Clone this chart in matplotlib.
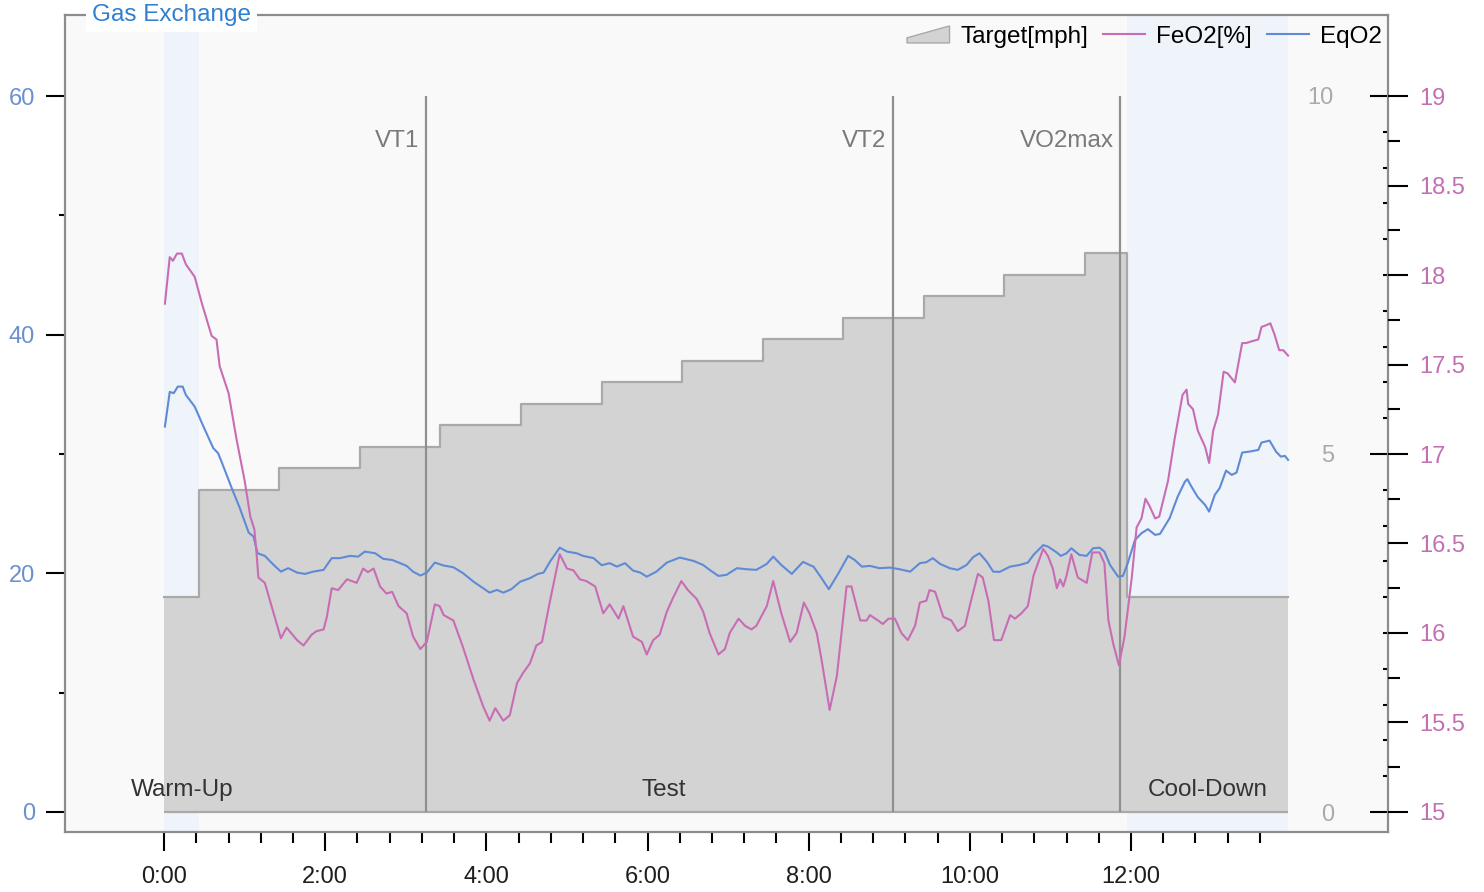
import numpy as np
import matplotlib
matplotlib.use("Agg")
import matplotlib.pyplot as plt
from matplotlib.patches import Patch, Polygon
from matplotlib.lines import Line2D
from matplotlib.legend_handler import HandlerPatch
from matplotlib.ticker import FixedLocator, FuncFormatter

plt.rcParams['font.family'] = ['Liberation Sans', 'DejaVu Sans']
FS = 17      # tick labels
FS_TXT = 17.5  # annotations, legend, title

# time in minutes
eq_t = [0.01, 0.07, 0.12, 0.17, 0.23, 0.27, 0.38, 0.47, 0.61, 0.67,
        0.72, 0.84, 0.94, 1.05, 1.11, 1.16, 1.25, 1.36, 1.45, 1.54,
        1.65, 1.75, 1.85, 1.98, 2.08, 2.18, 2.31, 2.41, 2.49, 2.62,
        2.72, 2.83, 2.93, 3.01, 3.09, 3.18, 3.26, 3.36, 3.47, 3.59,
        3.71, 3.84, 3.96, 4.04, 4.13, 4.21, 4.31, 4.42, 4.54, 4.64,
        4.71, 4.79, 4.91, 5.00, 5.12, 5.20, 5.33, 5.43, 5.53, 5.62,
        5.72, 5.82, 5.91, 5.99, 6.11, 6.24, 6.40, 6.57, 6.69, 6.77,
        6.88, 6.98, 7.11, 7.23, 7.35, 7.48, 7.56, 7.66, 7.79, 7.93,
        8.01, 8.06, 8.16, 8.25, 8.37, 8.49, 8.57, 8.66, 8.76, 8.88,
        9.01, 9.13, 9.26, 9.38, 9.46, 9.54, 9.63, 9.75, 9.85, 9.96,
        10.04, 10.12, 10.21, 10.29, 10.37, 10.50, 10.62, 10.72, 10.79, 10.91,
        10.97, 11.08, 11.13, 11.20, 11.26, 11.36, 11.45, 11.53, 11.61, 11.67,
        11.74, 11.84, 11.90, 11.96, 12.05, 12.13, 12.21, 12.30, 12.36, 12.48,
        12.58, 12.67, 12.70, 12.75, 12.83, 12.92, 12.97, 13.04, 13.10, 13.18,
        13.25, 13.31, 13.38, 13.47, 13.58, 13.62, 13.72, 13.80, 13.86, 13.91,
        13.95]
eq_o2 = [32.3, 35.2, 35.1, 35.65, 35.65, 34.95, 33.97, 32.58, 30.49, 30.07,
         29.23, 27.13, 25.46, 23.41, 23.08, 21.68, 21.46, 20.70, 20.14, 20.43,
         20.06, 19.95, 20.14, 20.29, 21.27, 21.27, 21.46, 21.40, 21.82, 21.68,
         21.21, 21.12, 20.85, 20.62, 20.14, 19.81, 20.06, 20.90, 20.65, 20.51,
         20.01, 19.30, 18.75, 18.38, 18.61, 18.38, 18.67, 19.30, 19.59, 19.95,
         20.06, 20.98, 22.15, 21.82, 21.68, 21.46, 21.27, 20.68, 20.85, 20.56,
         20.85, 20.23, 20.06, 19.72, 20.14, 20.90, 21.32, 21.04, 20.70, 20.29,
         19.78, 19.87, 20.43, 20.34, 20.29, 20.79, 21.40, 20.70, 19.95, 20.96,
         20.70, 20.56, 19.59, 18.67, 20.01, 21.46, 21.12, 20.56, 20.62, 20.43,
         20.48, 20.34, 20.14, 20.85, 20.93, 21.27, 20.79, 20.43, 20.29, 20.70,
         21.35, 21.68, 20.98, 20.14, 20.12, 20.56, 20.70, 20.90, 21.54, 22.36,
         22.24, 21.74, 21.46, 21.68, 22.10, 21.54, 21.46, 22.10, 22.15, 21.82,
         20.70, 19.72, 19.78, 20.85, 22.80, 23.36, 23.70, 23.22, 23.30, 24.62,
         26.43, 27.69, 27.89, 27.27, 26.38, 25.73, 25.17, 26.57, 27.13, 28.61,
         28.25, 28.44, 30.12, 30.20, 30.34, 30.96, 31.12, 30.20, 29.78, 29.84,
         29.51]

fe_t = [0.01, 0.07, 0.11, 0.16, 0.22, 0.27, 0.38, 0.47, 0.59, 0.65,
        0.69, 0.80, 0.90, 1.00, 1.07, 1.12, 1.15, 1.17, 1.25, 1.36,
        1.45, 1.52, 1.65, 1.73, 1.83, 1.89, 1.98, 2.02, 2.08, 2.16,
        2.27, 2.39, 2.47, 2.53, 2.60, 2.68, 2.76, 2.83, 2.91, 3.01,
        3.09, 3.18, 3.26, 3.36, 3.42, 3.47, 3.59, 3.71, 3.84, 3.96,
        4.04, 4.11, 4.21, 4.29, 4.38, 4.46, 4.54, 4.62, 4.69, 4.79,
        4.91, 5.00, 5.08, 5.16, 5.24, 5.35, 5.45, 5.53, 5.64, 5.70,
        5.82, 5.93, 5.99, 6.07, 6.15, 6.24, 6.32, 6.42, 6.50, 6.61,
        6.69, 6.77, 6.88, 6.96, 7.02, 7.13, 7.21, 7.29, 7.35, 7.48,
        7.56, 7.66, 7.77, 7.85, 7.94, 8.01, 8.10, 8.16, 8.26, 8.35,
        8.47, 8.53, 8.64, 8.72, 8.76, 8.86, 8.92, 8.99, 9.07, 9.15,
        9.23, 9.32, 9.38, 9.46, 9.50, 9.57, 9.67, 9.77, 9.81, 9.85,
        9.94, 10.02, 10.10, 10.16, 10.23, 10.30, 10.39, 10.50, 10.56, 10.64,
        10.72, 10.79, 10.91, 10.97, 11.03, 11.08, 11.12, 11.16, 11.20, 11.26,
        11.34, 11.45, 11.52, 11.61, 11.67, 11.72, 11.78, 11.85, 11.92, 12.01,
        12.07, 12.13, 12.18, 12.23, 12.30, 12.35, 12.46, 12.54, 12.64, 12.69,
        12.71, 12.77, 12.83, 12.92, 12.97, 13.02, 13.08, 13.15, 13.20, 13.29,
        13.38, 13.43, 13.50, 13.58, 13.62, 13.68, 13.73, 13.78, 13.84, 13.89,
        13.95]
fe_o2 = [17.84, 18.10, 18.08, 18.12, 18.12, 18.06, 17.99, 17.84, 17.66, 17.64,
         17.49, 17.34, 17.08, 16.85, 16.65, 16.58, 16.43, 16.31, 16.28, 16.11,
         15.97, 16.03, 15.96, 15.93, 15.99, 16.01, 16.02, 16.09, 16.25, 16.24,
         16.30, 16.28, 16.36, 16.34, 16.36, 16.26, 16.22, 16.23, 16.15, 16.11,
         15.98, 15.91, 15.95, 16.16, 16.15, 16.10, 16.07, 15.92, 15.74, 15.59,
         15.51, 15.58, 15.51, 15.54, 15.72, 15.78, 15.83, 15.93, 15.95, 16.18,
         16.44, 16.36, 16.35, 16.30, 16.29, 16.26, 16.11, 16.16, 16.08, 16.15,
         15.98, 15.95, 15.88, 15.96, 15.99, 16.12, 16.20, 16.29, 16.24, 16.19,
         16.12, 16.00, 15.88, 15.91, 16.00, 16.08, 16.04, 16.02, 16.04, 16.15,
         16.29, 16.11, 15.95, 16.00, 16.17, 16.11, 16.00, 15.85, 15.57, 15.76,
         16.26, 16.26, 16.07, 16.07, 16.10, 16.07, 16.05, 16.08, 16.08, 16.00,
         15.96, 16.04, 16.17, 16.18, 16.24, 16.23, 16.09, 16.07, 16.04, 16.01,
         16.04, 16.19, 16.33, 16.31, 16.18, 15.96, 15.96, 16.10, 16.08, 16.11,
         16.15, 16.32, 16.47, 16.43, 16.36, 16.25, 16.30, 16.26, 16.32, 16.44,
         16.31, 16.28, 16.45, 16.45, 16.39, 16.07, 15.94, 15.82, 15.98, 16.31,
         16.59, 16.64, 16.75, 16.71, 16.64, 16.65, 16.85, 17.08, 17.33, 17.36,
         17.28, 17.25, 17.13, 17.04, 16.95, 17.13, 17.22, 17.46, 17.45, 17.40,
         17.62, 17.62, 17.63, 17.64, 17.71, 17.72, 17.73, 17.67, 17.58, 17.58,
         17.55]

# treadmill target speed (mph), step changes
spd_t = [0, 0.43, 1.43, 2.43, 3.43, 4.43, 5.43, 6.43, 7.43, 8.43, 9.43, 10.43, 11.43, 11.95, 13.95]
spd_v = [3.0, 4.5, 4.8, 5.1, 5.4, 5.7, 6.0, 6.3, 6.6, 6.9, 7.2, 7.5, 7.8, 3.0, 3.0]

events = ['VT1', 'VT2', 'VO2max']
event_t = [3.25, 9.05, 11.87]

phases = ['Warm-Up', 'Test', 'Cool-Down']
phase_x = [0.22, 6.2, 12.95]
warm_span = (0, 0.43)
cool_span = (11.95, 13.95)

PINK = '#c86db5'
BLUE = '#5f8ad6'
FRAME = '#8c8c8c'

rect = [65 / 1484, 60 / 892, 1323 / 1484, 817 / 892]
fig = plt.figure(figsize=(14.84, 8.92), dpi=100)

# back axes: target speed + shading
ax_spd = fig.add_axes(rect)
ax_spd.set_facecolor('#f9f9f9')
ax_spd.axvspan(*warm_span, color='#eff3fa', lw=0, zorder=0.5)
ax_spd.axvspan(*cool_span, color='#eff3fa', lw=0, zorder=0.5)
ax_spd.fill_between(spd_t, 0, spd_v, step='post', color='#d3d3d3', lw=0, zorder=1)
ax_spd.step(spd_t, spd_v, where='post', color='#a9a9a9', lw=1.6, zorder=1.5)
ax_spd.hlines(0, spd_t[0], spd_t[-1], color='#a9a9a9', lw=1.6, zorder=1.5)
ax_spd.set_ylim(-0.279, 11.13)
for s in ax_spd.spines.values():
    s.set_visible(False)
ax_spd.spines['left'].set_position(('axes', 1.0))
ax_spd.yaxis.tick_left()
ax_spd.set_yticks([0, 5, 10])
ax_spd.yaxis.set_minor_locator(FixedLocator(np.arange(0, 10.01, 0.5)))
ax_spd.tick_params(axis='y', which='major', direction='out', length=13, width=1.5,
                   pad=26, labelsize=FS, labelcolor='#aaaaaa', color='black')
ax_spd.tick_params(axis='y', which='minor', direction='out', length=3.8, width=1.5, color='black')
ax_spd.tick_params(axis='x', which='both', bottom=False, labelbottom=False)

# main axes: EqO2 (left scale)
ax = fig.add_axes(rect, sharex=ax_spd)
ax.patch.set_visible(False)
ax.plot(eq_t, eq_o2, color=BLUE, lw=1.5, zorder=3)
ax.vlines(event_t, 0, 60, color='#8f8f8f', lw=1.6, zorder=2)
for name, t in zip(events, event_t):
    ax.annotate(name, (t, 56.2), xytext=(-5, 0), textcoords='offset points',
                ha='right', va='center', fontsize=FS_TXT, color='#7a7a7a')
for name, t in zip(phases, phase_x):
    ax.text(t, 1.84, name, ha='center', va='center', fontsize=FS_TXT, color='#333333')
ax.set_xlim(-1.23, 15.19)
ax.set_ylim(-1.68, 66.79)
ax.set_yticks([0, 20, 40, 60])
ax.yaxis.set_minor_locator(FixedLocator([10, 30, 50]))
ax.set_xticks(range(0, 13, 2), [f'{m}:00' for m in range(0, 13, 2)])
ax.xaxis.set_minor_locator(FixedLocator(np.arange(0, 13.7, 0.4)))
ax.tick_params(axis='y', which='major', length=13.5, width=1.5, pad=8, labelsize=FS, labelcolor='#6b8fd0')
ax.tick_params(axis='y', which='minor', length=4.5, width=1.5)
ax.tick_params(axis='x', which='major', length=13.5, width=1.5, pad=11, labelsize=FS, labelcolor='#1e1e1e')
ax.tick_params(axis='x', which='minor', length=8, width=1.5)
for s in ax.spines.values():
    s.set_color(FRAME)
    s.set_linewidth(1.6)

# right axes: FeO2
ax_fe = ax.twinx()
ax_fe.plot(fe_t, fe_o2, color=PINK, lw=1.5, zorder=3)
ax_fe.set_ylim(14.888, 19.453)
ax_fe.set_yticks(np.arange(15, 19.01, 0.5))
ax_fe.yaxis.set_major_formatter(FuncFormatter(lambda v, p: f'{v:g}'))
ax_fe.yaxis.set_minor_locator(FixedLocator(np.arange(15, 19.01, 0.25)))
ax_fe.tick_params(axis='y', which='major', length=14.5, width=1.5, pad=8, labelsize=FS, labelcolor='#c46fb2')
ax_fe.tick_params(axis='y', which='minor', length=8.5, width=1.5)
for s in ax_fe.spines.values():
    s.set_visible(False)


def wedge(legend, orig_handle, xdescent, ydescent, width, height, fontsize):
    return Polygon([[-xdescent, -ydescent], [width - xdescent, -ydescent],
                    [width - xdescent, height - ydescent], [-xdescent, 0.3 * height - ydescent]],
                   closed=True)


handles = [Patch(facecolor='#d3d3d3', edgecolor='#a9a9a9'),
           Line2D([], [], color=PINK, lw=1.5),
           Line2D([], [], color=BLUE, lw=1.5)]
labels = ['Target[mph]', 'FeO2[%]', 'EqO2']
ax_fe.legend(handles, labels, loc='upper right', bbox_to_anchor=(1.0038, 1.0), ncol=3,
             frameon=False, fontsize=FS_TXT, handlelength=1.75, handletextpad=0.45,
             columnspacing=0.6, borderaxespad=0, borderpad=0.45,
             handler_map={Patch: HandlerPatch(patch_func=wedge)})

ax_fe.text(27 / 1323, 1.0, 'Gas Exchange', transform=ax_fe.transAxes, ha='left', va='center',
           fontsize=FS_TXT, color='#2f80d1', zorder=10,
           bbox=dict(facecolor='white', edgecolor='none', pad=4))

fig.savefig('out.png', dpi=100)
